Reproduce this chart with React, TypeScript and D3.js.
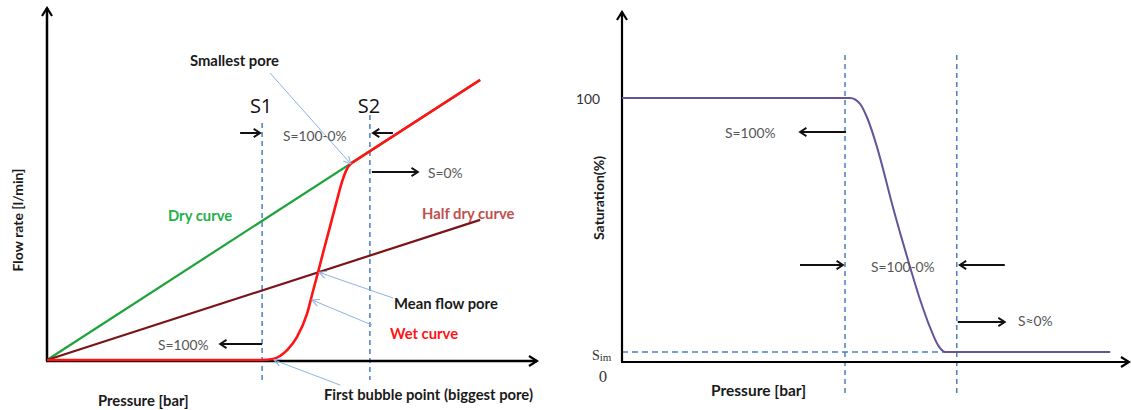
import React from "react";
import * as d3 from "d3";

type Pt = [number, number];

// Left panel: pressure (0–100) vs flow rate (0–100)
const dryCurve: Pt[] = [[0, 0], [88.4, 79.6]];
const halfDryCurve: Pt[] = [[0, 0], [88.4, 39.8]];
const wetCurve: Pt[] = [
  [0, 0], [43.9, 0], [46.1, 0.3], [49, 2.8], [51, 6.5], [53.06, 13.1], [54.29, 19.6],
  [55.31, 24.9], [56.33, 30.4], [57.76, 37.9], [59.18, 45.4], [60.2, 50.6],
  [61.22, 54.3], [62.2, 56], [88.4, 79.6],
];
// index where the wet curve merges into the dry line
const wetJoinIndex = 13;
// Bubble-point markers S1 (first bubble) and S2 (smallest pore)
const stageNames = ["S1", "S2"];
const stagePressures = [43.9, 65.9];

// Right panel: pressure (0–100) vs saturation (%)
const saturationCurve: Pt[] = [
  [0, 100], [44.9, 100], [46.9, 97.7], [48.2, 92.8], [50.2, 81.4], [51.8, 70.1],
  [52.8, 62.5], [54.7, 49.2], [56.7, 36], [58.7, 23.5], [60.6, 13.3],
  [62.2, 6.4], [63.6, 3.8], [96.1, 3.8],
];
const residualSaturation = 3.8;
const satTickValues = [100];

const W = 1131;
const H = 410;
const FONT = "Lato, 'Open Sans', sans-serif";

const xL = d3.scaleLinear().domain([0, 100]).range([47, 537]);
const yL = d3.scaleLinear().domain([0, 100]).range([360, 8]);
const xR = d3.scaleLinear().domain([0, 100]).range([622, 1130]);
const yR = d3.scaleLinear().domain([0, 100]).range([362, 98]);

const smoothL = d3.line<Pt>().x((d) => xL(d[0])).y((d) => yL(d[1])).curve(d3.curveMonotoneX);
const straightL = d3.line<Pt>().x((d) => xL(d[0])).y((d) => yL(d[1]));
const lineR = d3.line<Pt>().x((d) => xR(d[0])).y((d) => yR(d[1])).curve(d3.curveMonotoneX);

const BLUE_DASH = "#4a7fc1";
const LEADER = "#8db3e2";

function Arrow({ x1, x2, y }: { x1: number; x2: number; y: number }) {
  return <line x1={x1} y1={y} x2={x2} y2={y} stroke="#111" strokeWidth={2} markerEnd="url(#chev)" />;
}

function Leader({ x1, y1, x2, y2 }: { x1: number; y1: number; x2: number; y2: number }) {
  return <line x1={x1} y1={y1} x2={x2} y2={y2} stroke={LEADER} strokeWidth={1} markerEnd="url(#thin)" />;
}

export default function App() {
  const s1 = xL(stagePressures[0]);
  const s2 = xL(stagePressures[1]);
  const r1 = xR(stagePressures[0]);
  const r2 = xR(stagePressures[1]);
  const meanFlow = wetCurve[7];
  const bubble = wetCurve[2];
  const smallest = wetCurve[wetJoinIndex];
  const wetPath =
    (smoothL(wetCurve.slice(0, wetJoinIndex + 1)) ?? "") +
    (straightL(wetCurve.slice(wetJoinIndex)) ?? "").replace(/^M/, "L");

  return (
    <svg
      width={W}
      height={H}
      style={{ position: "absolute", left: 0, top: 0, background: "#fff" }}
      fontFamily={FONT}
    >
      <defs>
        <marker id="axisHead" viewBox="0 0 12 12" refX="10" refY="6" markerWidth="12" markerHeight="12" markerUnits="userSpaceOnUse" orient="auto">
          <path d="M2,1 L10,6 L2,11" fill="none" stroke="#000" strokeWidth={2.2} />
        </marker>
        <marker id="chev" viewBox="0 0 12 12" refX="10" refY="6" markerWidth="11" markerHeight="11" markerUnits="userSpaceOnUse" orient="auto">
          <path d="M3,1.5 L10,6 L3,10.5" fill="none" stroke="#111" strokeWidth={2} />
        </marker>
        <marker id="thin" viewBox="0 0 10 10" refX="9" refY="5" markerWidth="9" markerHeight="9" markerUnits="userSpaceOnUse" orient="auto">
          <path d="M1,1 L9,5 L1,9" fill="none" stroke={LEADER} strokeWidth={1.2} />
        </marker>
      </defs>

      {/* ---------- Left panel ---------- */}
      {stagePressures.map((p, i) => (
        <line key={stageNames[i]} x1={xL(p)} x2={xL(p)} y1={i === 0 ? 123 : 115} y2={380}
          stroke={BLUE_DASH} strokeWidth={1.5} strokeDasharray="5,4" />
      ))}
      {stageNames.map((n, i) => (
        <text key={n} x={xL(stagePressures[i]) - 1} y={105} fontSize={20} textAnchor="middle"
          dominantBaseline="central" fontFamily="'Open Sans', sans-serif" fill="#111">{n}</text>
      ))}

      <path d={straightL(dryCurve) ?? ""} fill="none" stroke="#1ea33c" strokeWidth={2.2} />
      <path d={straightL(halfDryCurve) ?? ""} fill="none" stroke="#7a1418" strokeWidth={2.2} />

      {/* axes */}
      <line x1={xL(0)} y1={yL(0) + 1} x2={xL(0)} y2={8} stroke="#000" strokeWidth={2.5} markerEnd="url(#axisHead)" />
      <line x1={xL(0) - 1} y1={yL(0) + 1} x2={537} y2={yL(0) + 1} stroke="#000" strokeWidth={2.5} markerEnd="url(#axisHead)" />

      <path d={wetPath} fill="none" stroke="#ff1414" strokeWidth={2.6} strokeLinejoin="round" />

      <Arrow x1={s1 - 22} x2={s1 - 2} y={133} />
      <Arrow x1={s2 + 23} x2={s2 + 3} y={133} />
      <Arrow x1={s2 + 2} x2={s2 + 48} y={172} />
      <Arrow x1={s1} x2={s1 - 42} y={344} />

      <Leader x1={270} y1={73} x2={xL(smallest[0]) - 1} y2={yL(smallest[1]) + 1} />
      <Leader x1={393} y1={298} x2={xL(meanFlow[0]) + 1} y2={yL(meanFlow[1])} />
      <Leader x1={372} y1={325} x2={312} y2={300} />
      <Leader x1={340} y1={385} x2={xL(bubble[0]) + 1} y2={yL(bubble[1]) + 1} />

      <g fontSize={13.8} dominantBaseline="central">
        <text x={190} y={60} fontSize={14.8} fontWeight="bold" fill="#1a1a1a">Smallest pore</text>
        <text x={283} y={135} fill="#555">S=100-0%</text>
        <text x={428} y={172} fill="#555">S=0%</text>
        <text x={168} y={215} fontSize={14.8} fontWeight="bold" fill="#22b04a">Dry curve</text>
        <text x={422} y={213} fontSize={14.8} fontWeight="bold" fill="#c0504d">Half dry curve</text>
        <text x={394} y={303} fontSize={14.8} fontWeight="bold" fill="#1a1a1a">Mean flow pore</text>
        <text x={390} y={333} fontSize={14.8} fontWeight="bold" fill="#ff1414">Wet curve</text>
        <text x={158} y={344} fill="#555">S=100%</text>
        <text x={98} y={400} fontSize={14.8} fontWeight="bold" fill="#1a1a1a">Pressure [bar]</text>
        <text x={324} y={394} fontSize={14.8} fontWeight="bold" fill="#1a1a1a">First bubble point (biggest pore)</text>
        <text transform="translate(17,220) rotate(-90)" fontSize={14} textAnchor="middle" fontWeight="bold" fill="#1a1a1a">Flow rate [l/min]</text>
      </g>

      {/* ---------- Right panel ---------- */}
      {stagePressures.map((p) => (
        <line key={p} x1={xR(p)} x2={xR(p)} y1={55} y2={395}
          stroke={BLUE_DASH} strokeWidth={1.5} strokeDasharray="5,4" />
      ))}
      <line x1={xR(0)} x2={xR(63.6)} y1={yR(residualSaturation)} y2={yR(residualSaturation)}
        stroke={BLUE_DASH} strokeWidth={1.5} strokeDasharray="6,4" />

      <line x1={xR(0)} y1={yR(0)} x2={xR(0)} y2={12} stroke="#000" strokeWidth={2.2} markerEnd="url(#axisHead)" />
      <line x1={xR(0) - 1} y1={yR(0)} x2={1129} y2={yR(0)} stroke="#000" strokeWidth={2.2} markerEnd="url(#axisHead)" />

      <path d={lineR(saturationCurve) ?? ""} fill="none" stroke="#66549a" strokeWidth={2} />

      <Arrow x1={r1 + 1} x2={r1 - 45} y={132} />
      <Arrow x1={r1 - 45} x2={r1 - 2} y={265} />
      <Arrow x1={r2 + 48} x2={r2 + 3} y={265} />
      <Arrow x1={r2 + 1} x2={r2 + 48} y={322} />

      <g fontSize={13.8} dominantBaseline="central">
        {satTickValues.map((v) => (
          <text key={v} x={600} y={yR(v)} textAnchor="end" fill="#333">{v}</text>
        ))}
        <text x={725} y={132} fill="#555">S=100%</text>
        <text x={871} y={266} fill="#555">S=100-0%</text>
        <text x={1018} y={320} fill="#555">S≈0%</text>
        <text x={603} y={377} textAnchor="middle" fontSize={14} fill="#333" fontFamily="'DejaVu Serif', serif">0</text>
        <text x={592} y={355} fill="#333" fontFamily="'Liberation Serif', serif" fontSize={14}>
          S<tspan fontSize={11} dy={2}>im</tspan>
        </text>
        <text x={711} y={390} fontSize={15.5} fontWeight="bold" fill="#1a1a1a">Pressure [bar]</text>
        <text transform="translate(598,198) rotate(-90)" fontSize={14} textAnchor="middle" fontWeight="bold" fill="#1a1a1a">Saturation(%)</text>
      </g>
    </svg>
  );
}
